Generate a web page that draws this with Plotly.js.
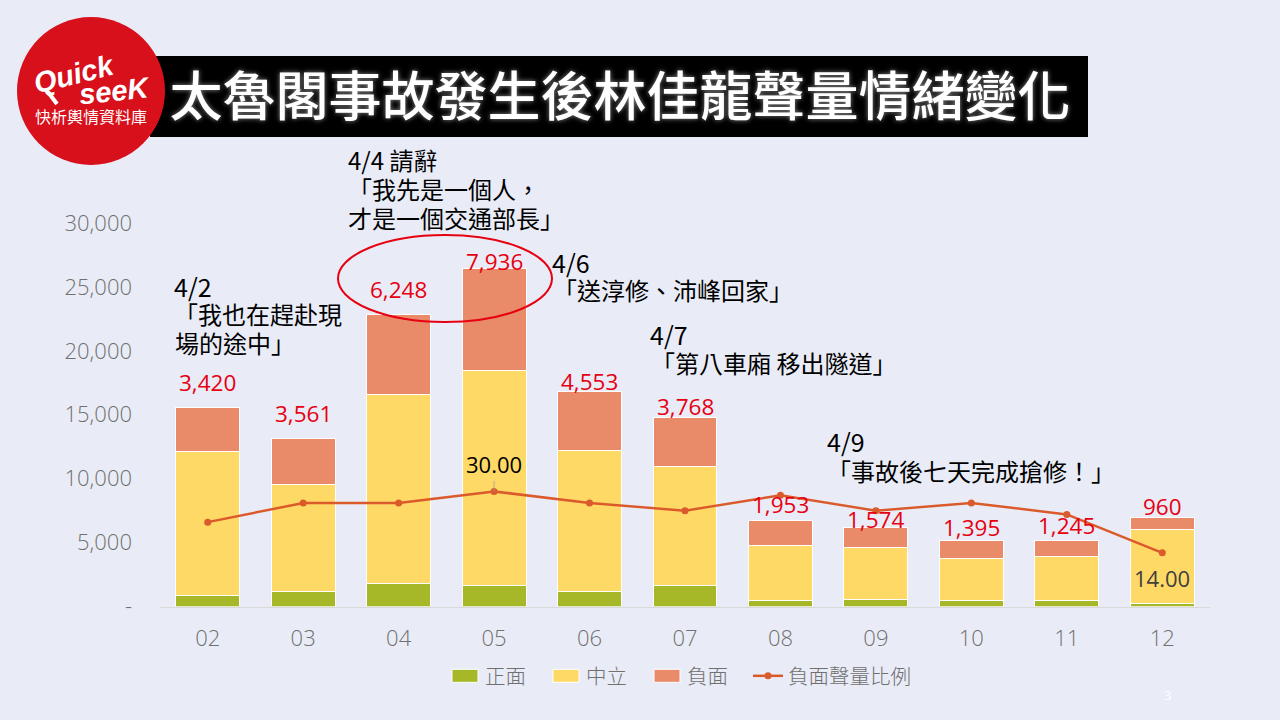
<!DOCTYPE html>
<html>
<head>
<meta charset="utf-8">
<script src="https://cdn.plot.ly/plotly-3.0.1.min.js"></script>
<style>
html,body{margin:0;padding:0;background:#E9ECF6}#chart{width:1280px;height:720px}
.legend .scrollbox{clip-path:none !important}
</style>
</head>
<body>
<div id="chart"></div>
<script>
const days = ['02','03','04','05','06','07','08','09','10','11','12'];
const positive = [860,1170,1800,1640,1170,1640,470,530,450,450,250];
const neutral = [11270,8380,14760,16830,11060,9340,4300,4070,3330,3490,5750];
const negative = [3420,3561,6248,7936,4553,3768,1953,1574,1395,1245,960];
const negativeRatio = [22,27,27,30,27,25,29,25,27,24,14];
const yTickValues = [0,5000,10000,15000,20000,25000,30000];
const yTickLabels = ['-','5,000','10,000','15,000','20,000','25,000','30,000'];
const titleText = '太魯閣事故發生後林佳龍聲量情緒變化';
const notes = [
  ['4/2',174,288,25],['「我也在趕赴現',174,316,24],['場的途中」',175,345,24],
  ['4/4 請辭',348,162,24],['「我先是一個人，',348,191,24],['才是一個交通部長」',348,220,24],
  ['4/6',552,264,25],['「送淳修、沛峰回家」',553,292,24],
  ['4/7',650,336,25],['「第八車廂 移出隧道」',651,365,24],
  ['4/9',827,443,25],['「事故後七天完成搶修！」',827,473,24]
];

const W = 1280, H = 720;
const px = x => x / W, py = y => 1 - y / H;
const CJK = '"Noto Sans CJK TC","Open Sans",sans-serif';
const NUM = '"Open Sans","Noto Sans CJK TC",sans-serif';
const GREY = '#707070', RED = '#E60012';
const labelShift = [25,25,25,7,10,11,16,8,13,15,11];

const barLine = {color:'#FFFFFF', width:1};
const traces = [
  {type:'bar', name:'正面', x:days, y:positive, marker:{color:'#A6B727', line:barLine}},
  {type:'bar', name:'中立', x:days, y:neutral, marker:{color:'#FFD966', line:barLine}},
  {type:'bar', name:'負面', x:days, y:negative, marker:{color:'#E98A69', line:barLine}},
  {type:'scatter', mode:'lines+markers', name:'負面聲量比例', x:days, y:negativeRatio, yaxis:'y2',
   line:{color:'#DB5A2B', width:2.5}, marker:{color:'#DB5A2B', size:7}}
];

const annotations = [];
days.forEach((d,i) => {
  annotations.push({xref:'x', yref:'y', x:i, y:positive[i]+neutral[i]+negative[i],
    text:negative[i].toLocaleString('en-US'), showarrow:false, xanchor:'center', yanchor:'middle', yshift:labelShift[i],
    font:{family:NUM, size:22.5, color:RED}});
});
annotations.push({xref:'x', yref:'y2', x:3, y:negativeRatio[3], text:negativeRatio[3].toFixed(2),
  showarrow:true, arrowhead:0, arrowwidth:0.8, arrowcolor:'#A0A0A0', ax:0, ay:-27,
  font:{family:NUM, size:22, color:'#000000'}});
annotations.push({xref:'x', yref:'y2', x:10, y:negativeRatio[10], text:negativeRatio[10].toFixed(2),
  showarrow:false, xanchor:'center', yanchor:'middle', yshift:-25, font:{family:NUM, size:22, color:'#404040'}});
notes.forEach(n => annotations.push({xref:'paper', yref:'paper', x:px(n[1]), y:py(n[2]), text:n[0],
  showarrow:false, xanchor:'left', yanchor:'middle', xshift:-2, yshift:2.5, font:{family:CJK, size:n[3], color:'#000000'}}));
annotations.push(
  {xref:'paper', yref:'paper', x:px(74), y:py(74), text:'<b><i>Quick</i></b>', textangle:-14, showarrow:false, xanchor:'center', yanchor:'middle',
   font:{family:'"Liberation Sans",sans-serif', size:29, color:'#FFFFFF'}},
  {xref:'paper', yref:'paper', x:px(114), y:py(91), text:'<b><i>seeK</i></b>', textangle:-6, showarrow:false, xanchor:'center', yanchor:'middle',
   font:{family:'"Liberation Sans",sans-serif', size:29, color:'#FFFFFF'}},
  {xref:'paper', yref:'paper', x:px(91), y:py(116), text:'快析輿情資料庫', showarrow:false, xanchor:'center', yanchor:'middle',
   font:{family:CJK, size:16, color:'#FFFFFF'}},
  {xref:'paper', yref:'paper', x:px(1167), y:py(695), text:'3', showarrow:false, xanchor:'center', yanchor:'middle',
   font:{family:NUM, size:13, color:'#FFFFFF'}}
);

const layout = {
  width:W, height:H, margin:{l:0,r:0,t:0,b:0,pad:0},
  paper_bgcolor:'#E9ECF6', plot_bgcolor:'rgba(0,0,0,0)',
  barmode:'stack', bargap:0.33,
  title:{text:titleText, xref:'paper', yref:'paper', x:px(620), y:py(97), xanchor:'center', yanchor:'middle',
    font:{family:CJK, size:53, color:'#FFFFFF', weight:500, shadow:'0 0 5px #8A8A8A'}},
  xaxis:{type:'category', domain:[px(160),px(1210)], range:[-0.5,10.5], autorange:false, showgrid:false, zeroline:false, showline:true, linecolor:'#D9D9D9', linewidth:1,
    ticks:'', ticklabelstandoff:12, tickfont:{family:NUM, size:22, color:GREY, weight:300}},
  yaxis:{domain:[py(606.5),py(223)], range:[0,30000], showgrid:false, zeroline:false, showline:false,
    tickmode:'array', tickvals:yTickValues, ticktext:yTickLabels, ticks:'', ticklabelstandoff:27,
    tickfont:{family:NUM, size:22, color:GREY, weight:300}},
  yaxis2:{domain:[py(606.5),py(223)], range:[0,100], overlaying:'y', side:'right', visible:false},
  legend:{orientation:'h', x:px(445), xanchor:'left', y:py(676), yanchor:'middle', itemwidth:30, entrywidth:56, entrywidthmode:'pixels',
    bgcolor:'rgba(0,0,0,0)', font:{family:CJK, size:20.5, color:GREY, weight:300}, traceorder:'normal'},
  shapes:[
    {type:'rect', xref:'paper', yref:'paper', x0:px(150), x1:px(1088), y0:py(56), y1:py(137), fillcolor:'#000000', line:{width:0}, layer:'above'},
    {type:'circle', xref:'paper', yref:'paper', x0:px(17), x1:px(165), y0:py(17), y1:py(165), fillcolor:'#D7101C', line:{width:0}, layer:'above'},
    {type:'line', xref:'paper', yref:'paper', x0:px(48), x1:px(57), y0:py(92), y1:py(104), line:{color:'#FFFFFF', width:4}, layer:'above'},
    {type:'circle', xref:'paper', yref:'paper', x0:px(338), x1:px(552), y0:py(235), y1:py(322), fillcolor:'rgba(0,0,0,0)', line:{color:'#E60012', width:2}, layer:'above'}
  ],
  annotations:annotations,
  showlegend:true
};
Plotly.newPlot('chart', traces, layout, {displayModeBar:false, responsive:false}).then(() => {
  document.querySelectorAll('.legend .traces').forEach((g,i) => {
    if (i < 3) g.querySelectorAll('.legendpoints path').forEach(p => p.setAttribute('d','M13,6.5H-13V-6.5H13Z'));
  });
});
</script>
</body>
</html>
